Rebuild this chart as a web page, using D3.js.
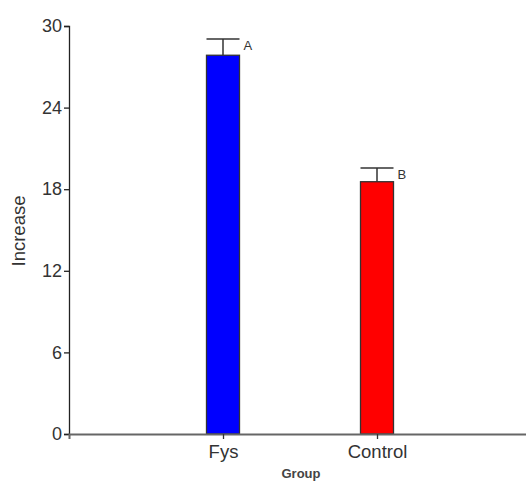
<!DOCTYPE html>
<html>
<head>
<meta charset="utf-8">
<script src="https://cdn.jsdelivr.net/npm/d3@7"></script>
<style>
    body { margin: 0; background: #fff; }
    text { font-family: "Liberation Sans", Arial, sans-serif; fill: #333; }
</style>
</head>
<body>
<div id="viz"></div>
<script>
// data
var groups = ['Fys', 'Control'];
var means = [27.85, 18.55];
var errors = [1.2, 1.0];
var letters = ['A', 'B'];
var colors = ['#0000ff', '#ff0000'];
var yTicks = [0, 6, 12, 18, 24, 30];

var width = 526;
var height = 482;
var margin = { top: 26, right: 0, bottom: 48, left: 69 };

var rows = groups.map(function (g, i) {
    return { name: g, mean: means[i], err: errors[i], letter: letters[i], color: colors[i] };
});

var svg = d3.select('#viz')
    .append('svg')
    .attr('width', width)
    .attr('height', height);

var x = d3.scalePoint()
    .domain(groups)
    .range([margin.left, 531])
    .padding(1);

var y = d3.scaleLinear()
    .domain([0, 30])
    .range([height - margin.bottom, margin.top]);

var barWidth = 33;

// bars
svg.selectAll('rect.bar')
    .data(rows)
    .enter().append('rect')
    .attr('class', 'bar')
    .attr('x', function (d) { return x(d.name) - barWidth / 2; })
    .attr('y', function (d) { return y(d.mean); })
    .attr('width', barWidth)
    .attr('height', function (d) { return y(0) - y(d.mean); })
    .attr('fill', function (d) { return d.color; })
    .attr('stroke', '#333')
    .attr('stroke-width', 1.3);

// error bars (upper only)
var eb = svg.selectAll('g.err')
    .data(rows)
    .enter().append('g')
    .attr('class', 'err')
    .attr('stroke', '#333')
    .attr('stroke-width', 1.5);

eb.append('line')
    .attr('x1', function (d) { return x(d.name); })
    .attr('x2', function (d) { return x(d.name); })
    .attr('y1', function (d) { return y(d.mean); })
    .attr('y2', function (d) { return y(d.mean + d.err); });

eb.append('line')
    .attr('x1', function (d) { return x(d.name) - barWidth / 2; })
    .attr('x2', function (d) { return x(d.name) + barWidth / 2; })
    .attr('y1', function (d) { return y(d.mean + d.err); })
    .attr('y2', function (d) { return y(d.mean + d.err); });

svg.selectAll('text.letter')
    .data(rows)
    .enter().append('text')
    .attr('class', 'letter')
    .attr('x', function (d) { return x(d.name) + barWidth / 2 + 4; })
    .attr('y', function (d) { return y(d.mean + d.err) + 11; })
    .attr('font-size', 13)
    .text(function (d) { return d.letter; });

// axes
var yAxis = svg.append('g')
    .attr('transform', 'translate(' + margin.left + ',0)')
    .call(d3.axisLeft(y).tickValues(yTicks).tickSize(5).tickPadding(2));

yAxis.selectAll('text').attr('font-size', 18).style('font-family', null);
yAxis.selectAll('line, path').attr('stroke', '#222').attr('stroke-width', 1.3);

var xAxis = svg.append('g')
    .attr('transform', 'translate(0,' + y(0) + ')')
    .call(d3.axisBottom(x).tickSize(5).tickSizeOuter(5).tickPadding(6));

xAxis.selectAll('text').attr('font-size', 18.5).style('font-family', null);
xAxis.selectAll('line').attr('stroke', '#333').attr('stroke-width', 1.3);
xAxis.select('path').attr('stroke', '#666').attr('stroke-width', 2);

// axis titles
svg.append('text')
    .attr('transform', 'translate(25,' + (y(15) + 1) + ') rotate(-90)')
    .attr('text-anchor', 'middle')
    .attr('font-size', 18.5)
    .text('Increase');

svg.append('text')
    .attr('x', 301)
    .attr('y', 478)
    .attr('text-anchor', 'middle')
    .attr('font-size', 13)
    .attr('font-weight', 'bold')
    .style('fill', '#444')
    .text('Group');
</script>
</body>
</html>
